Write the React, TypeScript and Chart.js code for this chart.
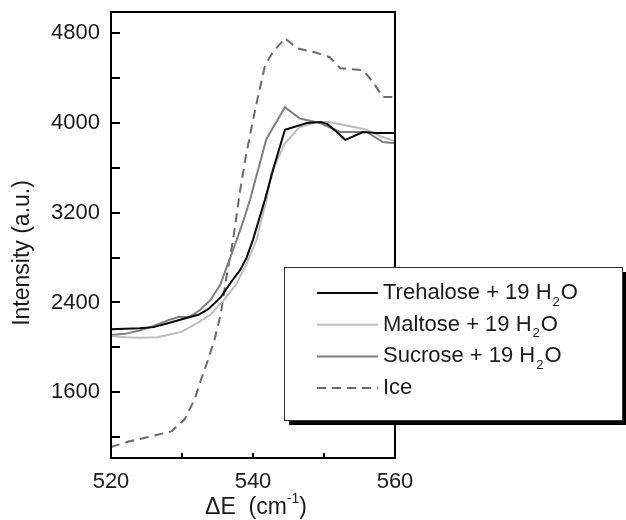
import React, { useEffect, useRef } from "react";
import { Chart, registerables } from "chart.js";

Chart.register(...registerables);

// ---------- data ----------
const trehaloseE = [520, 522, 524, 526, 528, 530, 532.3, 533.7, 535.5, 536.9, 538.2, 539.1, 540, 541.7, 542.9, 544.5, 547.6, 549.5, 550.5, 551.8, 553, 555.5, 557.4, 560];
const trehaloseI = [2160, 2165, 2170, 2180, 2215, 2250, 2290, 2340, 2450, 2580, 2690, 2800, 2960, 3320, 3600, 3940, 4000, 4010, 3990, 3920, 3850, 3920, 3910, 3910];

const maltoseE = [520, 522, 524, 526.5, 528, 530, 532, 534, 536, 537.5, 539, 540.5, 541.9, 542.6, 544.5, 546.5, 549, 550.8, 553, 556, 558, 560];
const maltoseI = [2100, 2090, 2085, 2090, 2110, 2140, 2210, 2290, 2430, 2550, 2730, 2960, 3316, 3556, 3820, 3960, 4010, 4010, 3980, 3940, 3880, 3840];

const sucroseE = [520, 522, 524, 526, 528, 529.5, 531, 532.5, 534, 535.4, 536.5, 537.2, 538.5, 539.6, 541.9, 544.5, 546.6, 549.4, 552.3, 556, 558.3, 560];
const sucroseI = [2110, 2120, 2150, 2190, 2240, 2270, 2270, 2330, 2420, 2560, 2750, 2870, 3100, 3320, 3860, 4140, 4040, 4000, 3920, 3920, 3830, 3820];

const iceE = [520, 522.5, 525.2, 528.5, 530.4, 531.8, 532.7, 533.7, 534.6, 535.5, 536.2, 537.2, 538.2, 538.9, 539.8, 540.6, 541.7, 542.8, 544.5, 546.2, 548.7, 550.8, 552.3, 555.5, 556.9, 558.3, 560];
const iceI = [1110, 1160, 1200, 1250, 1360, 1540, 1716, 1893, 2071, 2311, 2604, 2960, 3404, 3671, 3964, 4204, 4516, 4631, 4756, 4667, 4631, 4587, 4489, 4471, 4364, 4231, 4231];

const xTickValues = [520, 530, 540, 550, 560];
const xTickLabels = [520, 540, 560];
const yTickValues = [1200, 1600, 2000, 2400, 2800, 3200, 3600, 4000, 4400, 4800];
const yTickLabels = [1600, 2400, 3200, 4000, 4800];

const seriesNames = ["Trehalose + 19 H", "Maltose + 19 H", "Sucrose + 19 H", "Ice"];
const yTitle = "Intensity (a.u.)";

const FONT = "'Liberation Sans', Arial, sans-serif";

const zip = (xs: number[], ys: number[]) => xs.map((x, i) => ({ x, y: ys[i] }));

const decorPlugin = {
  id: "decor",
  afterDraw(chart: any) {
    const { ctx, chartArea: a, scales } = chart;
    ctx.save();
    // inward ticks
    ctx.strokeStyle = "#000";
    ctx.lineWidth = 2;
    ctx.setLineDash([]);
    scales.y.ticks.forEach((t: any) => {
      const py = Math.round(scales.y.getPixelForValue(t.value));
      ctx.beginPath();
      ctx.moveTo(a.left, py);
      ctx.lineTo(a.left + 9, py);
      ctx.stroke();
    });
    scales.x.ticks.forEach((t: any) => {
      const px = Math.round(scales.x.getPixelForValue(t.value));
      ctx.beginPath();
      ctx.moveTo(px, a.bottom);
      ctx.lineTo(px, a.bottom - 5);
      ctx.stroke();
    });
    // frame
    ctx.strokeRect(a.left, a.top, a.right - a.left, a.bottom - a.top);

    // axis titles
    ctx.fillStyle = "#1a1a1a";
    ctx.textBaseline = "middle";
    ctx.font = `23px ${FONT}`;
    ctx.save();
    ctx.translate(23, 253);
    ctx.rotate(-Math.PI / 2);
    ctx.textAlign = "center";
    ctx.fillText(yTitle, 0, 0);
    ctx.restore();

    // x title with superscript
    const main1 = "\u0394E  (cm";
    const sup = "-1";
    const main2 = ")";
    ctx.font = `23px ${FONT}`;
    const w1 = ctx.measureText(main1).width;
    const w3 = ctx.measureText(main2).width;
    ctx.font = `14px ${FONT}`;
    const w2 = ctx.measureText(sup).width;
    const total = w1 + w2 + w3;
    let sx = 256 - total / 2;
    const ty = 508;
    ctx.textAlign = "left";
    ctx.font = `23px ${FONT}`;
    ctx.fillText(main1, sx, ty);
    sx += w1;
    ctx.font = `14px ${FONT}`;
    ctx.fillText(sup, sx, ty - 9);
    sx += w2;
    ctx.font = `23px ${FONT}`;
    ctx.fillText(main2, sx, ty);

    // legend box
    const bx = 284, by = 267, bw = 338, bh = 153;
    ctx.fillStyle = "#000";
    ctx.fillRect(bx + 5, by + 5, bw, bh);
    ctx.fillStyle = "#fff";
    ctx.fillRect(bx, by, bw, bh);
    ctx.strokeStyle = "#333";
    ctx.lineWidth = 1;
    ctx.strokeRect(bx + 0.5, by + 0.5, bw, bh);

    chart.data.datasets.forEach((ds: any, i: number) => {
      const rowY = 293 + i * 31.7;
      ctx.strokeStyle = ds.borderColor;
      ctx.lineWidth = ds.borderWidth;
      ctx.setLineDash(ds.borderDash || []);
      ctx.beginPath();
      ctx.moveTo(317, rowY);
      ctx.lineTo(378, rowY);
      ctx.stroke();
      ctx.setLineDash([]);
      ctx.fillStyle = "#1a1a1a";
      ctx.textAlign = "left";
      ctx.font = `22px ${FONT}`;
      let tx = 383;
      ctx.fillText(ds.label, tx, rowY);
      if (ds.label !== "Ice") {
        tx += ctx.measureText(ds.label).width + 1;
        ctx.font = `13px ${FONT}`;
        ctx.fillText("2", tx, rowY + 9);
        tx += ctx.measureText("2").width + 1;
        ctx.font = `22px ${FONT}`;
        ctx.fillText("O", tx, rowY);
      }
    });
    ctx.restore();
  },
};

export default function App() {
  const ref = useRef<HTMLCanvasElement | null>(null);

  useEffect(() => {
    if (!ref.current) return;
    const chart = new Chart(ref.current, {
      type: "line",
      data: {
        datasets: [
          {
            label: seriesNames[0],
            data: zip(trehaloseE, trehaloseI),
            borderColor: "#0a0a0a",
            borderWidth: 2,
            pointRadius: 0,
            tension: 0,
            fill: false,
          },
          {
            label: seriesNames[1],
            data: zip(maltoseE, maltoseI),
            borderColor: "#bdbdbd",
            borderWidth: 2,
            pointRadius: 0,
            tension: 0,
            fill: false,
          },
          {
            label: seriesNames[2],
            data: zip(sucroseE, sucroseI),
            borderColor: "#7f7f7f",
            borderWidth: 2,
            pointRadius: 0,
            tension: 0,
            fill: false,
          },
          {
            label: seriesNames[3],
            data: zip(iceE, iceI),
            borderColor: "#6a6a6a",
            borderWidth: 2,
            borderDash: [9, 6],
            pointRadius: 0,
            tension: 0,
            fill: false,
          },
        ],
      },
      options: {
        animation: false,
        responsive: false,
        devicePixelRatio: 1,
        layout: { padding: { top: 12, right: 231, left: 0, bottom: 0 } },
        plugins: {
          legend: { display: false },
          tooltip: { enabled: false },
        },
        scales: {
          x: {
            type: "linear",
            min: 520,
            max: 560,
            grid: { display: false, drawTicks: false },
            border: { display: false },
            afterBuildTicks: (s: any) => {
              s.ticks = xTickValues.map((v) => ({ value: v }));
            },
            afterFit: (s: any) => {
              s.height = 62;
              s.paddingLeft = 0;
              s.paddingRight = 0;
            },
            ticks: {
              autoSkip: false,
              maxRotation: 0,
              padding: 11,
              color: "#1a1a1a",
              font: { family: FONT, size: 22 },
              callback: (v: any) => (xTickLabels.includes(Number(v)) ? String(v) : ""),
            },
          },
          y: {
            type: "linear",
            min: 1013,
            max: 4990,
            grid: { display: false, drawTicks: false },
            border: { display: false },
            afterBuildTicks: (s: any) => {
              s.ticks = yTickValues.map((v) => ({ value: v }));
            },
            afterFit: (s: any) => {
              s.width = 111;
              s.paddingTop = 0;
              s.paddingBottom = 0;
            },
            ticks: {
              autoSkip: false,
              padding: 11,
              color: "#1a1a1a",
              font: { family: FONT, size: 22 },
              callback: (v: any) => (yTickLabels.includes(Number(v)) ? String(v) : ""),
            },
          },
        },
      },
      plugins: [decorPlugin],
    } as any);
    return () => chart.destroy();
  }, []);

  return (
    <div style={{ position: "absolute", left: 0, top: 0, width: 626, height: 520, background: "#fff" }}>
      <canvas ref={ref} width={626} height={520} />
    </div>
  );
}
